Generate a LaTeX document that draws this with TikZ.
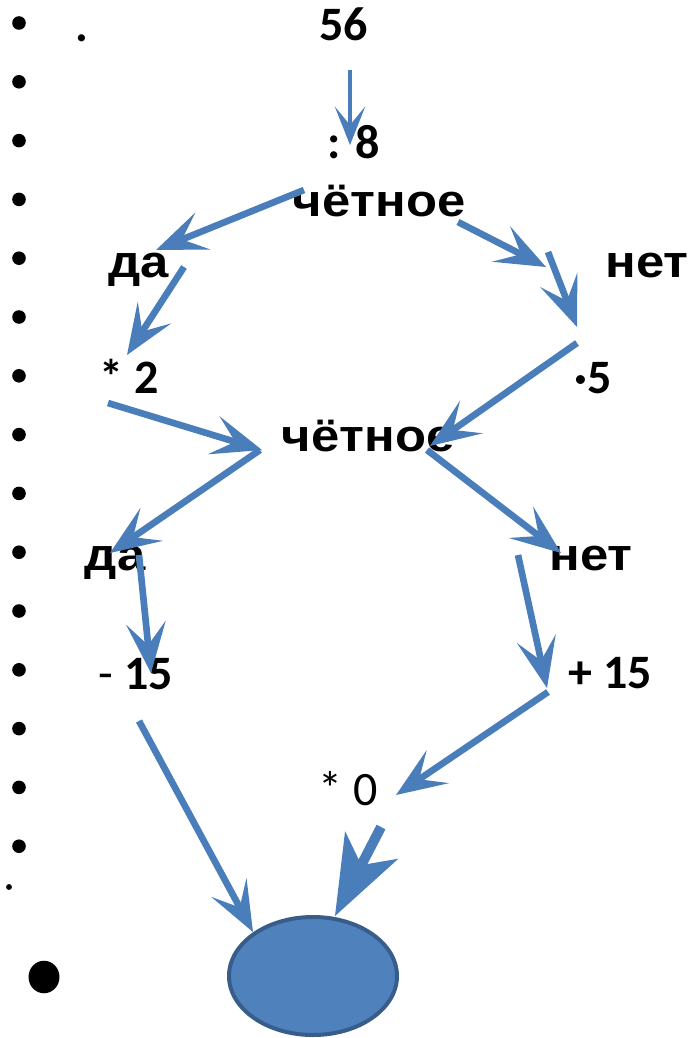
\documentclass[tikz,border=0pt]{standalone}
\usepackage{fontspec}
\usetikzlibrary{arrows.meta,shapes.geometric}
\newfontfamily\calfont{Carlito}
\newfontfamily\cyrfont[FakeStretch=1.12]{Liberation Sans}
\definecolor{arrblue}{HTML}{4A7EBB}
\definecolor{fillblue}{HTML}{4F81BD}
\definecolor{edgeblue}{HTML}{385D8A}
\tikzset{
  numtxt/.style={anchor=base, inner sep=0pt, font=\calfont\bfseries\fontsize{36pt}{36pt}\selectfont},
  numreg/.style={anchor=base, inner sep=0pt, font=\calfont\fontsize{36pt}{36pt}\selectfont},
  cyrtxt/.style={anchor=base, inner sep=0pt, font=\cyrfont\bfseries\fontsize{34pt}{34pt}\selectfont},
  bul/.style={fill=black, draw=none},
  arr/.style={draw=arrblue, line width=5pt, line cap=butt,
    -{Stealth[length=38pt, width=30pt, inset=17pt, line width=0pt]}},
  arrthin/.style={draw=arrblue, line width=3.2pt, line cap=butt,
    -{Stealth[length=29pt, width=23pt, inset=14pt, line width=0pt]}},
  arrthick/.style={draw=arrblue, line width=7.5pt, line cap=butt,
    -{Stealth[length=60pt, width=45pt, inset=17pt, line width=0pt]}},
}
\begin{document}
\begin{tikzpicture}[x=0.75pt, y=-0.75pt]
\useasboundingbox (0,0) rectangle (689,1038);

% bullets
\foreach \k in {0,...,14} {
  \fill[bul] (19,{23+58.8*\k}) circle[radius=5.1pt];
}
\fill[bul] (9,887) circle[radius=2.2pt];
\fill[bul] (44,977) ellipse[x radius=11.6pt, y radius=12.2pt];

% texts
\node[numtxt] (dot) at (82,41.5) {.};
\node[numtxt] (n56) at (343.5,41) {56};
\node[numtxt] (div8) at (354,159) {: 8};
\node[cyrtxt] (even1) at (379,216) {чётное};
\node[cyrtxt] (yes1) at (138.5,277) {да};
\node[cyrtxt] (no1) at (647,277) {нет};
\node[numtxt] (mul2) at (129.5,393) {* 2};
\node[numtxt] (mul5) at (593,393) {·5};
\node[cyrtxt] (even2) at (368,451) {чётное};
\node[cyrtxt] (yes2) at (115,570) {да};
\node[cyrtxt] (no2) at (591,570) {нет};
\node[numtxt] (minus15) at (136,689) {{\mdseries -} 15};
\node[numtxt] (plus15) at (610,688) {+ 15};
\node[numreg] (mul0) at (348.5,805) {* 0};

% result ellipse
\node[ellipse, draw=edgeblue, fill=fillblue, line width=3pt,
      minimum width=126pt, minimum height=88.5pt, inner sep=0pt] (res) at (313,976) {};

% connector end points
\coordinate (s1) at (350,70);   \coordinate (t1) at (350,145);
\coordinate (s2) at (304,190);  \coordinate (t2) at (156,250);
\coordinate (s3) at (458,222);  \coordinate (t3) at (546,267);
\coordinate (s4) at (548,252);  \coordinate (t4) at (577,327);
\coordinate (s5) at (184,267);  \coordinate (t5) at (127,355);
\coordinate (s6) at (577,343);  \coordinate (t6) at (430,446);
\coordinate (s7) at (108,403);  \coordinate (t7) at (262,450);
\coordinate (s8) at (260,450);  \coordinate (t8) at (110,553);
\coordinate (s9) at (427,450);  \coordinate (t9) at (561,553);
\coordinate (s10) at (139,555); \coordinate (t10) at (151,673);
\coordinate (s11) at (518,555); \coordinate (t11) at (547,688);
\coordinate (s12) at (548,692); \coordinate (t12) at (396,795);
\coordinate (s13) at (139,721); \coordinate (t13) at (253,932);
\coordinate (s14) at (381,827); \coordinate (t14) at (335,916);

% connectors
\draw[arrthin] (s1) -- (t1);
\draw[arr] (s2) -- (t2);
\draw[arr] (s3) -- (t3);
\draw[arr] (s4) -- (t4);
\draw[arr] (s5) -- (t5);
\draw[arr] (s6) -- (t6);
\draw[arr] (s7) -- (t7);
\draw[arr] (s8) -- (t8);
\draw[arr] (s9) -- (t9);
\draw[arr] (s10) -- (t10);
\draw[arr] (s11) -- (t11);
\draw[arr] (s12) -- (t12);
\draw[arr] (s13) -- (t13);
\draw[arrthick] (s14) -- (t14);
\end{tikzpicture}
\end{document}
